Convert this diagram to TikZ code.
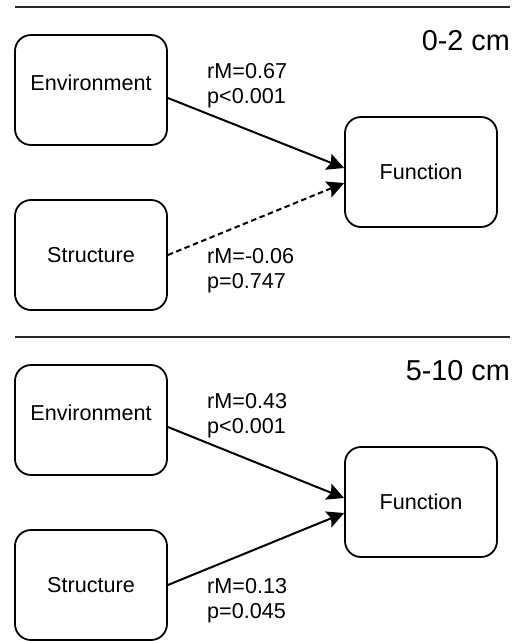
\documentclass[tikz,border=0pt]{standalone}
\usepackage{fontspec}
\setmainfont{Liberation Sans}
\usetikzlibrary{arrows.meta}
\begin{document}
\begin{tikzpicture}[x=1pt,y=-1pt,
  box/.style={draw=black, line width=1.8pt, rounded corners=16pt, minimum width=152pt, minimum height=110pt, inner sep=0pt},
  lbl/.style={font=\fontsize{21.6}{25}\selectfont, inner sep=0pt},
  head/.style={font=\fontsize{28.8}{34}\selectfont, inner sep=0pt, anchor=base east},
  conn/.style={line width=2pt, -{Stealth[length=17pt,width=17pt,inset=3pt]}},
  rule/.style={line width=2pt, draw=black!85}]
\useasboundingbox (0,0) rectangle (522,641);
% ---- top panel ----
\coordinate (tl1) at (15,7);
\coordinate (tr1) at (510,7);
\draw[rule] (tl1) -- (tr1);
\node[head] (h1) at (510,50) {0-2 cm};
\node[box] (env1) at (91,90) {};
\node[box] (str1) at (91,255) {};
\node[box] (fun1) at (421,172) {};
\node[lbl, anchor=base] (env1t) at (91,90) {Environment};
\node[lbl] (str1t) at (91,255) {Structure};
\node[lbl] (fun1t) at (421,172) {Function};
\draw[conn] ([yshift=-8pt]env1.east) -- ([yshift=4pt]fun1.west);
\draw[conn, dash pattern=on 5.5pt off 3.5pt] (str1.east) -- ([yshift=-11pt]fun1.west);
\node[lbl, anchor=base west] (a1) at (207,78) {rM=0.67};
\node[lbl, anchor=base west] (b1) at (207,103) {p<0.001};
\node[lbl, anchor=base west] (c1) at (207,263) {rM=-0.06};
\node[lbl, anchor=base west] (d1) at (207,288) {p=0.747};
% ---- bottom panel ----
\coordinate (tl2) at (15,337);
\coordinate (tr2) at (510,337);
\draw[rule] (tl2) -- (tr2);
\node[head] (h2) at (510,380) {5-10 cm};
\node[box] (env2) at (91,420) {};
\node[box] (str2) at (91,585) {};
\node[box] (fun2) at (421,502) {};
\node[lbl, anchor=base] (env2t) at (91,420) {Environment};
\node[lbl] (str2t) at (91,585) {Structure};
\node[lbl] (fun2t) at (421,502) {Function};
\draw[conn] ([yshift=-7pt]env2.east) -- ([yshift=4pt]fun2.west);
\draw[conn] (str2.east) -- ([yshift=-11pt]fun2.west);
\node[lbl, anchor=base west] (a2) at (207,408) {rM=0.43};
\node[lbl, anchor=base west] (b2) at (207,433) {p<0.001};
\node[lbl, anchor=base west] (c2) at (207,593) {rM=0.13};
\node[lbl, anchor=base west] (d2) at (207,618) {p=0.045};
\end{tikzpicture}
\end{document}
